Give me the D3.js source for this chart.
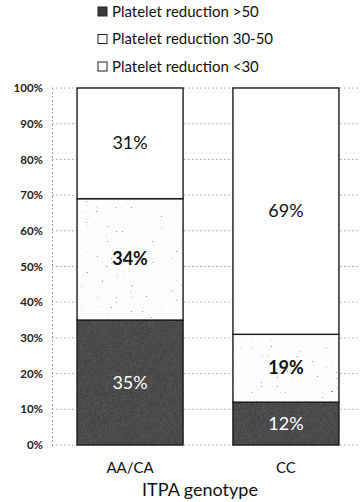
<!DOCTYPE html>
<html>
<head>
<meta charset="utf-8">
<script src="https://cdn.jsdelivr.net/npm/d3@7"></script>
<style>
  html, body { margin: 0; padding: 0; background: #fff; }
  svg { display: block; font-family: Lato, "Open Sans", sans-serif; }
</style>
</head>
<body>
<div id="chart"></div>
<script>
// Genotype groups and share of patients per platelet-reduction class (%)
const genotypes = ["AA/CA", "CC"];
const seriesNames = ["Platelet reduction >50", "Platelet reduction 30-50", "Platelet reduction <30"];
const reductionOver50 = [35, 12];
const reduction30to50 = [34, 19];
const reductionUnder30 = [31, 69];
const yTicks = [0, 10, 20, 30, 40, 50, 60, 70, 80, 90, 100];

const W = 360, H = 502;
const margin = { top: 88, right: 0, bottom: 57, left: 52 };

const svg = d3.select("#chart").append("svg").attr("width", W).attr("height", H);
const defs = svg.append("defs");

// Grainy fills: a dark speckled texture and a light sprinkled one
const darkNoise = defs.append("filter").attr("id", "darkGrain")
  .attr("x", 0).attr("y", 0).attr("width", 1).attr("height", 1);
darkNoise.append("feTurbulence").attr("type", "fractalNoise").attr("baseFrequency", 1.6)
  .attr("numOctaves", 1).attr("seed", 3).attr("result", "n");
darkNoise.append("feColorMatrix").attr("in", "n").attr("type", "matrix")
  .attr("values", "0 0 0 0 0.1  0 0 0 0 0.1  0 0 0 0 0.1  0 0 0 -1.6 1.3").attr("result", "spots");
darkNoise.append("feComposite").attr("in", "spots").attr("in2", "SourceGraphic").attr("operator", "in");

const lightNoise = defs.append("filter").attr("id", "lightGrain")
  .attr("x", 0).attr("y", 0).attr("width", 1).attr("height", 1);
lightNoise.append("feTurbulence").attr("type", "fractalNoise").attr("baseFrequency", 2.2)
  .attr("numOctaves", 1).attr("seed", 9).attr("result", "n");
lightNoise.append("feColorMatrix").attr("in", "n").attr("type", "matrix")
  .attr("values", "0 0 0 0 0.3  0 0 0 0 0.3  0 0 0 0 0.3  0 0 0 24 -17.6").attr("result", "spots");
lightNoise.append("feComposite").attr("in", "spots").attr("in2", "SourceGraphic").attr("operator", "in");

const x = d3.scaleBand().domain(genotypes).range([56, W - margin.right])
  .paddingInner(0.32).paddingOuter(0.135);
const y = d3.scaleLinear().domain([0, 100]).range([H - margin.bottom, margin.top]);

// Gridlines
svg.append("g").selectAll("line").data(yTicks).join("line")
  .attr("x1", margin.left).attr("x2", W)
  .attr("y1", d => y(d)).attr("y2", d => y(d))
  .attr("stroke", "#8a8a8a").attr("stroke-width", 0.8).attr("stroke-dasharray", "1.5 2.5");

// Y axis
const yAxis = svg.append("g").attr("transform", `translate(${margin.left},0)`)
  .call(d3.axisLeft(y).tickValues(yTicks).tickFormat(d => d + "%").tickSize(0).tickPadding(9));
yAxis.select(".domain").attr("stroke", "#888").attr("stroke-dasharray", "1.5 2.5");
yAxis.selectAll("text").attr("font-size", 11.5).attr("font-weight", 700).attr("fill", "#222")
  .attr("font-family", "Lato, sans-serif");

// Stack the three classes
const rows = genotypes.map((g, i) => ({
  genotype: g, s0: reductionOver50[i], s1: reduction30to50[i], s2: reductionUnder30[i]
}));
const stack = d3.stack().keys(["s0", "s1", "s2"])(rows);
const baseFill = ["#3c3c3c", "#fdfdfd", "#ffffff"];
const grain = ["url(#darkGrain)", "url(#lightGrain)", null];
const labelColor = ["#ffffff", "#111111", "#111111"];
const labelWeight = [400, 700, 400];

stack.forEach((layer, li) => {
  const g = svg.append("g");
  g.selectAll("rect.base").data(layer).join("rect").attr("class", "base")
    .attr("x", d => x(d.data.genotype)).attr("width", x.bandwidth())
    .attr("y", d => y(d[1])).attr("height", d => y(d[0]) - y(d[1]))
    .attr("fill", baseFill[li]);
  if (grain[li]) {
    g.selectAll("rect.grain").data(layer).join("rect").attr("class", "grain")
      .attr("x", d => x(d.data.genotype)).attr("width", x.bandwidth())
      .attr("y", d => y(d[1])).attr("height", d => y(d[0]) - y(d[1]))
      .attr("fill", "#000").attr("filter", grain[li]);
  }
  g.selectAll("rect.edge").data(layer).join("rect").attr("class", "edge")
    .attr("x", d => x(d.data.genotype)).attr("width", x.bandwidth())
    .attr("y", d => y(d[1])).attr("height", d => y(d[0]) - y(d[1]))
    .attr("fill", "none").attr("stroke", "#1a1a1a").attr("stroke-width", 1.4);
  g.selectAll("text").data(layer).join("text")
    .attr("x", d => x(d.data.genotype) + x.bandwidth() / 2)
    .attr("y", d => y((d[0] + d[1]) / 2) + 6)
    .attr("text-anchor", "middle").attr("font-size", 18)
    .attr("font-weight", labelWeight[li])
    .attr("fill", labelColor[li])
    .text(d => (d[1] - d[0]) + "%");
});

// X axis labels
svg.append("g").selectAll("text").data(genotypes).join("text")
  .attr("x", d => x(d) + x.bandwidth() / 2).attr("y", 473)
  .attr("text-anchor", "middle").attr("font-size", 15).attr("fill", "#111").text(d => d);

svg.append("text").attr("x", 200).attr("y", 496)
  .attr("text-anchor", "middle").attr("font-size", 18).attr("fill", "#111").text("ITPA genotype");

// Legend
const legend = svg.append("g").selectAll("g").data(seriesNames).join("g")
  .attr("transform", (d, i) => `translate(98,${16 + i * 27.5})`);
legend.append("rect").attr("x", 0).attr("y", -9).attr("width", 9).attr("height", 9)
  .attr("fill", (d, i) => i === 0 ? "#3a3a3a" : "#fff")
  .attr("stroke", "#222").attr("stroke-width", 1);
legend.append("text").attr("x", 14).attr("y", 0.5).attr("font-size", 15).attr("fill", "#111")
  .text(d => d);
</script>
</body>
</html>
